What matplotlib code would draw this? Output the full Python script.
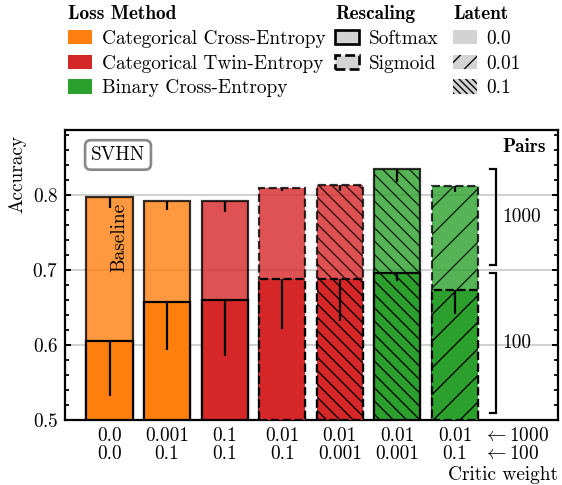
import matplotlib
matplotlib.use("Agg")
import matplotlib.pyplot as plt
from matplotlib.patches import Patch
from matplotlib.font_manager import FontProperties
import numpy as np

# ---------------- data ----------------
labels_1000 = ['0.0', '0.001', '0.1', '0.01', '0.01', '0.01', '0.01']
labels_100 = ['0.0', '0.1', '0.1', '0.1', '0.001', '0.001', '0.1']
methods = ['CCE', 'CCE', 'CTE', 'CTE', 'CTE', 'BCE', 'BCE']
rescaling = ['Softmax', 'Softmax', 'Softmax', 'Sigmoid', 'Sigmoid', 'Softmax', 'Sigmoid']
latent = ['0.0', '0.0', '0.0', '0.0', '0.1', '0.1', '0.01']
acc_1000 = [0.797, 0.792, 0.792, 0.810, 0.814, 0.835, 0.8115]
err_1000 = [0.014, 0.012, 0.014, 0.005, 0.008, 0.017, 0.007]
acc_100 = [0.605, 0.658, 0.660, 0.688, 0.688, 0.6965, 0.6735]
err_100 = [0.073, 0.064, 0.075, 0.067, 0.056, 0.011, 0.032]

method_names = ['Categorical Cross-Entropy', 'Categorical Twin-Entropy', 'Binary Cross-Entropy']
method_keys = ['CCE', 'CTE', 'BCE']
method_colors = {'CCE': '#ff7f0e', 'CTE': '#d62728', 'BCE': '#2ca02c'}
rescale_names = ['Softmax', 'Sigmoid']
rescale_ls = {'Softmax': '-', 'Sigmoid': '--'}
latent_names = ['0.0', '0.01', '0.1']
latent_hatch = {'0.0': '', '0.01': '//', '0.1': '\\\\\\\\'}
legend_hatch = {'0.0': '', '0.01': '///', '0.1': '\\\\\\\\\\\\\\\\'}

# ---------------- style ----------------
plt.rcParams['font.family'] = ['cmr10']
plt.rcParams['mathtext.fontset'] = 'cm'
plt.rcParams['axes.formatter.use_mathtext'] = True
plt.rcParams['font.size'] = 8.7
plt.rcParams['hatch.linewidth'] = 0.6
plt.rcParams['axes.linewidth'] = 1.0

bold = FontProperties(family='cmb10', size=8.7)

fig = plt.figure(figsize=(562 / 160, 485 / 160), dpi=160)
ax = fig.add_axes([65 / 562, 65 / 485, (558 - 65) / 562, (420 - 130) / 485])

x = np.arange(len(acc_1000))
width = 0.8
for i in x:
    c = method_colors[methods[i]]
    ls = rescale_ls[rescaling[i]]
    h = latent_hatch[latent[i]]
    ax.bar(i, acc_1000[i] - 0.5, bottom=0.5, width=width, color=c, alpha=0.8,
           edgecolor='k', linewidth=1.0, linestyle=ls, hatch=h, zorder=2)
    ax.bar(i, acc_100[i] - 0.5, bottom=0.5, width=width, color=c,
           edgecolor='k', linewidth=1.0, linestyle=ls, hatch=h, zorder=3)

ax.errorbar(x, acc_1000, yerr=[err_1000, np.zeros(len(x))], fmt='none',
            ecolor='k', elinewidth=1.0, capsize=0, zorder=4)
ax.errorbar(x, acc_100, yerr=[err_100, np.zeros(len(x))], fmt='none',
            ecolor='k', elinewidth=1.0, capsize=0, zorder=4)

ax.set_ylim(0.5, 0.8867)
ax.set_xlim(-0.773, 7.79)
ax.set_yticks([0.5, 0.6, 0.7, 0.8])
ax.set_yticks(np.arange(0.5, 0.887, 0.02), minor=True)
ax.yaxis.grid(True, which='major', color='#cccccc', linewidth=0.8)
ax.set_axisbelow(True)
ax.tick_params(axis='y', which='both', direction='in', left=True, right=True)
ax.tick_params(axis='y', which='major', length=2.6, width=0.9, pad=3)
ax.tick_params(axis='y', which='minor', length=1.8, width=0.8)

tick_pos = list(x) + [6.49]
tick_labels = [f'{a}\n{b}' for a, b in zip(labels_1000, labels_100)] + \
    ['$\\leftarrow$1000\n$\\leftarrow$100']
ax.set_xticks(tick_pos)
ax.set_xticklabels(tick_labels, linespacing=1.05)
ax.tick_params(axis='x', length=0, pad=3)
ax.get_xticklabels()[-1].set_horizontalalignment('left')

ax.set_ylabel('Accuracy', loc='top')
ax.yaxis.set_label_coords(-0.079, 0.983)
ax.set_xlabel('Critic weight', loc='right', labelpad=1.0)

# annotations
ax.text(0.1075, 0.914, 'SVHN', transform=ax.transAxes, ha='center', va='center',
        bbox=dict(boxstyle='round,pad=0.3', facecolor='white', edgecolor='#888888', linewidth=1.2))
ax.text(0.17, 0.789, 'Baseline', rotation=90, ha='center', va='top')
ax.text(6.83, 0.864, 'Pairs', ha='left', va='center', fontproperties=bold)

bx = 6.715
tick_len = 0.1
brackets = [(max(acc_100) + 0.01, max(acc_1000), '1000'), (0.51, max(acc_100), '100')]
for lo, hi, lab in brackets:
    ax.plot([bx - tick_len, bx, bx, bx - tick_len], [hi, hi, lo, lo], color='k', lw=1.0,
            solid_joinstyle='miter')
    ax.text(6.83, (lo + hi) / 2, lab, ha='left', va='center')

# legends
h1 = [Patch(facecolor=method_colors[k], edgecolor='none') for k in method_keys]
h2 = [Patch(facecolor='#d3d3d3', edgecolor='k', linewidth=1.2, linestyle=rescale_ls[k]) for k in rescale_names]
h3 = [Patch(facecolor='#d3d3d3', edgecolor='k', linewidth=0, hatch=legend_hatch[k]) for k in latent_names]

common = dict(loc='upper left', frameon=False, handlelength=1.24, handleheight=0.78,
              handletextpad=0.5, labelspacing=0.35, borderpad=0, borderaxespad=0,
              alignment='left', title_fontproperties=bold)
fig.legend(h1, method_names, title='Loss Method', bbox_to_anchor=(68 / 562, 1 - 5 / 485), **common)
fig.legend(h2, rescale_names, title='Rescaling', bbox_to_anchor=(335 / 562, 1 - 5 / 485), **common)
fig.legend(h3, latent_names, title='Latent', bbox_to_anchor=(453 / 562, 1 - 5 / 485), **common)

fig.savefig('out.png', dpi=160)
